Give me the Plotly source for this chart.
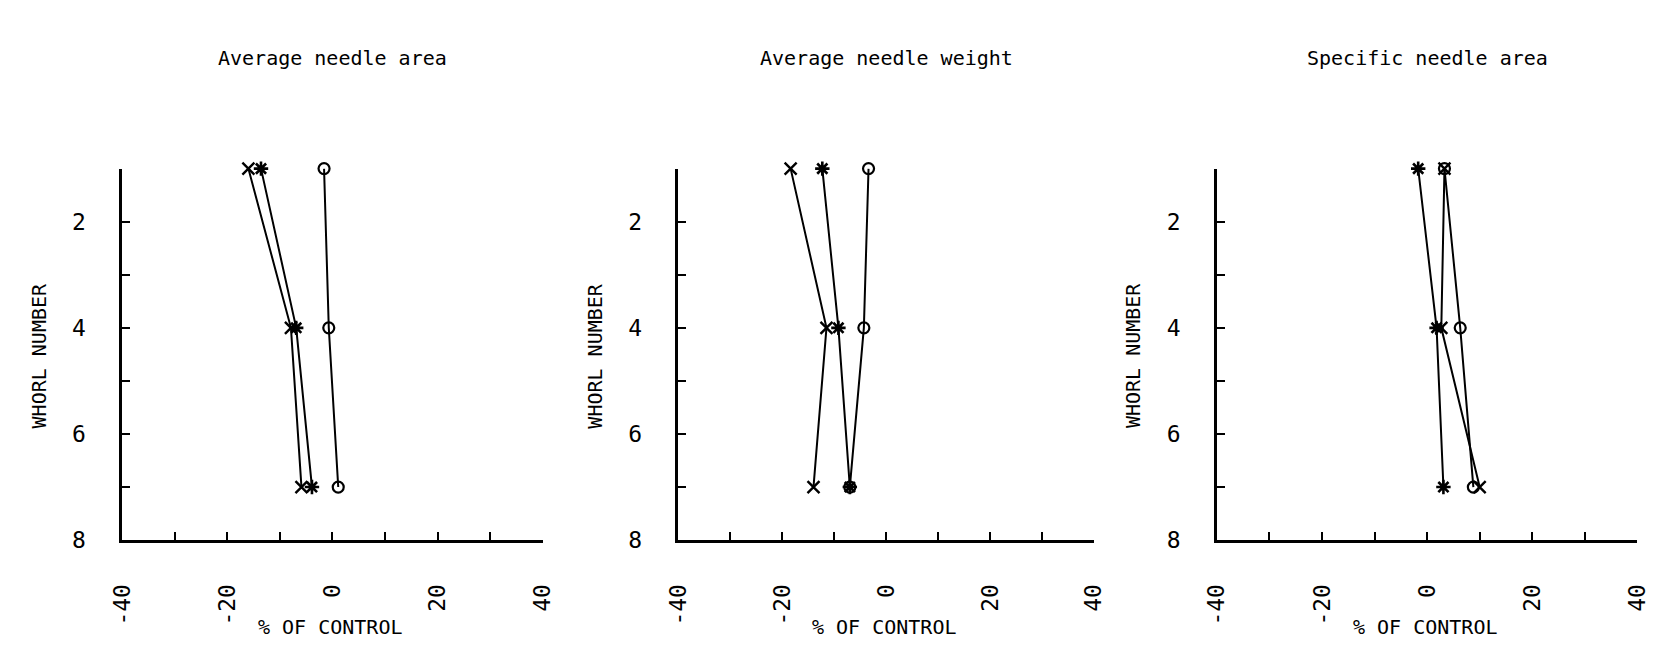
import plotly.graph_objects as go

whorl = [1, 4, 7]

titles = ["Average needle area", "Average needle weight", "Specific needle area"]

# values (% of control) per panel, per series
circle_vals = [[-1.6, -0.7, 1.1], [-3.4, -4.3, -7.0], [3.3, 6.3, 8.8]]
cross_vals = [[-16.0, -7.9, -5.9], [-18.4, -11.5, -14.0], [3.3, 2.7, 10.0]]
star_vals = [[-13.6, -6.9, -3.9], [-12.3, -9.2, -7.0], [-1.7, 1.8, 3.1]]

x_ticks = [-40, -20, 0, 20, 40]
y_ticks = [2, 4, 6, 8]

W, H = 1668, 659
x_px = [(110, 537), (675, 1097), (1222, 1649)]
y_px = (172, 551)

FONT = "DejaVu Sans Mono"

fig = go.Figure()

series = [
    (circle_vals, dict(symbol="circle-open", size=11, line=dict(width=2.2, color="black"))),
    (cross_vals, dict(symbol="x-thin-open", size=12, line=dict(width=2.4, color="black"))),
    (star_vals, dict(symbol="asterisk-open", size=12, line=dict(width=2.6, color="black"))),
]

for i in range(3):
    sfx = "" if i == 0 else str(i + 1)
    for vals, mk in series:
        fig.add_trace(go.Scatter(
            x=vals[i], y=whorl, mode="lines+markers",
            line=dict(color="black", width=2),
            marker=dict(color="black", **mk),
            cliponaxis=False, showlegend=False,
            xaxis="x" + sfx, yaxis="y" + sfx,
        ))
    x0, x1 = x_px[i]
    cx = (x0 + x1) / 2
    fig.layout["xaxis" + sfx] = dict(
        domain=[x0 / W, x1 / W], range=[-40, 40], anchor="y" + sfx,
        showgrid=False, zeroline=False, showline=True, linecolor="black", linewidth=2.5,
        ticks="inside", ticklen=8, tickwidth=2, tickcolor="black",
        tickmode="array",
        tickvals=list(range(-40, 41, 10)),
        ticktext=[str(v) if v in x_ticks else "" for v in range(-40, 41, 10)],
        tickangle=-90, ticklabelstandoff=32,
        tickfont=dict(family=FONT, size=23, color="black"),
    )
    fig.layout["yaxis" + sfx] = dict(
        domain=[1 - y_px[1] / H, 1 - y_px[0] / H], range=[8, 1], anchor="x" + sfx,
        showgrid=False, zeroline=False, showline=True, linecolor="black", linewidth=2.5,
        ticks="inside", ticklen=8, tickwidth=2, tickcolor="black",
        tickmode="array",
        tickvals=list(range(1, 9)),
        ticktext=[str(v) if v in y_ticks else "" for v in range(1, 9)],
        ticklabelstandoff=29,
        tickfont=dict(family=FONT, size=23, color="black"),
    )
    fig.add_annotation(text=titles[i], x=cx / W, y=1 - 59 / H,
                       xref="paper", yref="paper", showarrow=False,
                       xanchor="center", yanchor="middle",
                       font=dict(family=FONT, size=20, color="black"))
    fig.add_annotation(text="WHORL NUMBER", x=(x0 - 85) / W, y=1 - 363 / H,
                       xref="paper", yref="paper", showarrow=False, textangle=-90,
                       xanchor="center", yanchor="middle",
                       font=dict(family=FONT, size=20, color="black"))
    fig.add_annotation(text="% OF CONTROL", x=(cx - 2) / W, y=1 - 640 / H,
                       xref="paper", yref="paper", showarrow=False,
                       xanchor="center", yanchor="middle",
                       font=dict(family=FONT, size=20, color="black"))

fig.update_layout(
    width=W, height=H, margin=dict(l=0, r=0, t=0, b=0),
    paper_bgcolor="white", plot_bgcolor="white",
)

fig.write_html("out.html")
